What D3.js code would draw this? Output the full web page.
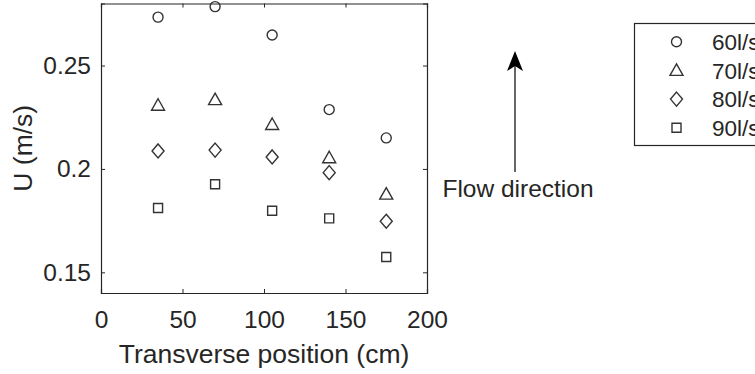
<!DOCTYPE html>
<html>
<head>
<meta charset="utf-8">
<script src="https://cdn.jsdelivr.net/npm/d3@7"></script>
<style>
  body { margin: 0; background: #fff; }
  svg { display: block; font-family: "Liberation Sans", Arial, sans-serif; }
</style>
</head>
<body>
<div id="chart"></div>
<script>
// data
const positions = [35, 70, 105, 140, 175];
const seriesNames = ["60l/s", "70l/s", "80l/s", "90l/s"];
const u60 = [0.2734, 0.2785, 0.2648, 0.2287, 0.2150];
const u70 = [0.2308, 0.2335, 0.2215, 0.2054, 0.1878];
const u80 = [0.2087, 0.2091, 0.2058, 0.1982, 0.1747];
const u90 = [0.1811, 0.1926, 0.1798, 0.1761, 0.1574];
const xTicks = [0, 50, 100, 150, 200];
const yTicks = [0.15, 0.2, 0.25];
const markers = ["circle", "triangle", "diamond", "square"];

const allSeries = [u60, u70, u80, u90];

const width = 755, height = 374;
const margin = { left: 101, right: 328, top: 3.5, bottom: 81 };
const ink = "#262626";

const svg = d3.select("#chart")
    .append("svg")
    .attr("width", width)
    .attr("height", height);

const xScale = d3.scaleLinear()
    .domain([0, 200])
    .range([margin.left, width - margin.right]);

const yScale = d3.scaleLinear()
    .domain([0.14, 0.28])
    .range([height - margin.bottom, margin.top]);

// marker shapes, MATLAB-ish
function markerPath(type) {
    if (type == "circle") return d3.symbol(d3.symbolCircle, Math.PI * 25)();
    if (type == "square") return "M-4.5,-4.5H4.5V4.5H-4.5Z";
    if (type == "diamond") return "M0,-7L6,0L0,7L-6,0Z";
    return "M0,-6.5L6.5,5L-6.5,5Z";
}

// axes box with ticks on all four sides
const g = svg.append("g");

g.append("g")
    .attr("transform", `translate(0,${yScale.range()[0]})`)
    .call(d3.axisBottom(xScale).tickValues(xTicks).tickSize(-4).tickPadding(18).tickFormat(d3.format("d")));
g.append("g")
    .attr("transform", `translate(0,${yScale.range()[1]})`)
    .call(d3.axisTop(xScale).tickValues(xTicks).tickSize(-4).tickFormat(""));
g.append("g")
    .attr("transform", `translate(${xScale.range()[0]},0)`)
    .call(d3.axisLeft(yScale).tickValues(yTicks).tickSize(-4).tickPadding(10).tickFormat(d => String(d)));
g.append("g")
    .attr("transform", `translate(${xScale.range()[1]},0)`)
    .call(d3.axisRight(yScale).tickValues(yTicks).tickSize(-4).tickFormat(""));

g.selectAll(".domain").attr("stroke", ink).attr("stroke-width", 1.2);
g.selectAll(".tick line").attr("stroke", ink).attr("stroke-width", 1);
g.selectAll(".tick text").attr("fill", ink).attr("font-size", 24.5).attr("font-family", "Liberation Sans, Arial, sans-serif");

// axis labels
svg.append("text")
    .attr("x", (xScale.range()[0] + xScale.range()[1]) / 2)
    .attr("y", 363)
    .attr("text-anchor", "middle")
    .attr("font-size", 26.5)
    .attr("fill", ink)
    .text("Transverse position (cm)");

svg.append("text")
    .attr("transform", `translate(32,${(yScale.range()[0] + yScale.range()[1]) / 2}) rotate(-90)`)
    .attr("text-anchor", "middle")
    .attr("font-size", 26.5)
    .attr("fill", ink)
    .text("U (m/s)");

// points
allSeries.forEach(function (vals, s) {
    svg.append("g")
        .selectAll("path")
        .data(vals)
        .enter()
        .append("path")
        .attr("d", markerPath(markers[s]))
        .attr("transform", (d, i) => `translate(${xScale(positions[i])},${yScale(d)})`)
        .attr("fill", "none")
        .attr("stroke", "#333")
        .attr("stroke-width", 1.4);
});

// flow direction arrow
svg.append("defs").append("marker")
    .attr("id", "head")
    .attr("viewBox", "0 0 20 20")
    .attr("refX", 18)
    .attr("refY", 10)
    .attr("markerWidth", 20)
    .attr("markerHeight", 20)
    .attr("markerUnits", "userSpaceOnUse")
    .attr("orient", "auto")
    .append("path")
    .attr("d", "M0,2L20,10L0,18L5,10Z")
    .attr("fill", "#000");

svg.append("line")
    .attr("x1", 515).attr("y1", 172)
    .attr("x2", 515).attr("y2", 53)
    .attr("stroke", "#000")
    .attr("stroke-width", 1.2)
    .attr("marker-end", "url(#head)");

svg.append("text")
    .attr("x", 518)
    .attr("y", 197)
    .attr("text-anchor", "middle")
    .attr("font-size", 24.5)
    .attr("fill", ink)
    .text("Flow direction");

// legend
const legend = svg.append("g");
legend.append("rect")
    .attr("x", 634.5).attr("y", 23.5)
    .attr("width", 140).attr("height", 122)
    .attr("fill", "#fff")
    .attr("stroke", ink)
    .attr("stroke-width", 1.2);

seriesNames.forEach(function (name, s) {
    const ly = 41.7 + s * 28.7;
    legend.append("path")
        .attr("d", markerPath(markers[s]))
        .attr("transform", `translate(676.5,${ly})`)
        .attr("fill", "none")
        .attr("stroke", "#333")
        .attr("stroke-width", 1.4);
    legend.append("text")
        .attr("x", 712)
        .attr("y", ly)
        .attr("dy", "0.36em")
        .attr("font-size", 22.5)
        .attr("fill", ink)
        .text(name);
});
</script>
</body>
</html>
